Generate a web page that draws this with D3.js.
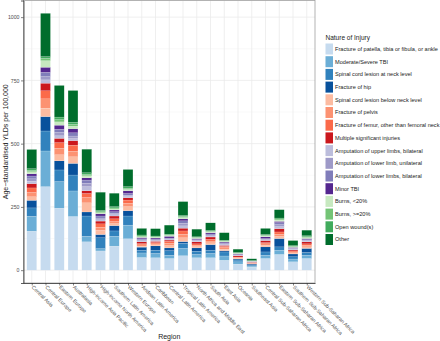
<!DOCTYPE html>
<html>
<head>
<meta charset="utf-8">
<script src="https://cdn.jsdelivr.net/npm/d3@7"></script>
<style>
  body { margin: 0; background: #fff; }
  text { font-family: "Liberation Sans", Arial, sans-serif; }
</style>
</head>
<body>
<div id="chart"></div>
<script>
// stacked YLDs by region, one array per injury (same order as regions)

var regions = ["Central Asia", "Central Europe", "Eastern Europe", "Australasia",
  "High-income Asia Pacific", "High-income North America", "Southern Latin America",
  "Western Europe", "Andean Latin America", "Caribbean", "Central Latin America",
  "Tropical Latin America", "North Africa and Middle East", "South Asia", "East Asia",
  "Oceania", "Southeast Asia", "Central Sub-Saharan Africa", "Eastern Sub-Saharan Africa",
  "Southern Sub-Saharan Africa", "Western Sub-Saharan Africa"];

var injuries = ["Fracture of patella, tibia or fibula, or ankle", "Moderate/Severe TBI",
  "Spinal cord lesion at neck level", "Fracture of hip", "Spinal cord lesion below neck level",
  "Fracture of pelvis", "Fracture of femur, other than femoral neck", "Multiple significant injuries",
  "Amputation of upper limbs, bilateral", "Amputation of lower limb, unilateral",
  "Amputation of lower limbs, bilateral", "Minor TBI", "Burns, <20%", "Burns, >=20%",
  "Open wound(s)", "Other"];

var colors = ["#c6dbef", "#6baed6", "#3182bd", "#08519c", "#fcbba1", "#fc9272", "#fb6a4a", "#cb181d",
  "#bcbddc", "#9e9ac8", "#807dba", "#54278f", "#c7e9c0", "#74c476", "#41ab5d", "#006d2c"];

var patella     = [154, 330, 245, 212, 112, 76, 95, 124, 50, 49, 46, 57, 49, 49, 39, 24, 12, 46, 62, 33, 46];
var tbiSevere   = [59, 141, 105, 101, 22, 9, 39, 54, 18, 17, 13, 29, 13, 17, 17, 9, 4, 13, 17, 11, 13];
var spinalNeck  = [33, 79, 46, 63, 80, 43, 21, 36, 11, 13, 18, 20, 13, 13, 16, 7, 4, 13, 13, 9, 11];
var hip         = [30, 57, 36, 46, 16, 13, 21, 21, 12, 17, 11, 7, 13, 22, 5, 4, 4, 20, 33, 11, 16];
var spinalBelow = [14, 33, 24, 26, 36, 16, 8, 16, 4, 4, 9, 15, 5, 7, 6, 3, 1, 6, 8, 4, 6];
var pelvis      = [17, 37, 26, 22, 21, 13, 8, 13, 5, 4, 9, 14, 6, 7, 6, 3, 2, 6, 9, 4, 6];
var femur       = [18, 32, 22, 24, 16, 13, 11, 13, 5, 5, 8, 13, 5, 7, 5, 2, 1, 5, 9, 4, 6];
var multiple    = [17, 30, 17, 18, 11, 11, 11, 9, 7, 5, 5, 11, 8, 9, 4, 5, 3, 8, 13, 4, 8];
var ampUpper    = [9, 13, 10, 8, 16, 5, 5, 5, 4, 2, 2, 9, 3, 4, 3, 2, 1, 3, 8, 2, 3];
var ampLowerUni = [10, 13, 13, 10, 13, 7, 5, 5, 4, 3, 3, 10, 3, 4, 3, 2, 1, 3, 8, 3, 3];
var ampLowerBi  = [11, 17, 13, 13, 13, 8, 7, 7, 4, 3, 3, 10, 3, 4, 3, 1, 1, 2, 8, 2, 3];
var minorTBI    = [9, 20, 16, 16, 9, 9, 7, 11, 5, 5, 7, 8, 4, 5, 4, 3, 1, 7, 5, 3, 4];
var burnsLt20   = [8, 26, 13, 10, 8, 4, 4, 5, 3, 3, 3, 5, 3, 3, 3, 2, 1, 3, 5, 2, 4];
var burnsGe20   = [5, 9, 9, 7, 5, 4, 4, 4, 3, 2, 2, 4, 2, 3, 2, 1, 1, 3, 4, 2, 3];
var openWound   = [7, 7, 10, 9, 7, 5, 5, 7, 4, 3, 3, 4, 2, 3, 2, 2, 1, 3, 4, 3, 4];
var other       = [76, 171, 125, 125, 93, 72, 53, 68, 26, 29, 36, 55, 30, 30, 30, 13, 7, 24, 33, 20, 22];

var series = [patella, tbiSevere, spinalNeck, hip, spinalBelow, pelvis, femur, multiple,
  ampUpper, ampLowerUni, ampLowerBi, minorTBI, burnsLt20, burnsGe20, openWound, other];

var yTicks = [0, 250, 500, 750, 1000];
var yMinor = [125, 375, 625, 875];

var width = 440,
    height = 341;

// panel box (note: "top" is taken by window.top)
var pL = 23.5, pR = 315, pT = 0.5, pB = 283;

var svg = d3.select("#chart").append("svg")
    .attr("width", width)
    .attr("height", height);

// table for d3.stack
var table = regions.map(function(r, i) {
  var row = { region: r };
  injuries.forEach(function(k, j) { row[k] = series[j][i]; });
  return row;
});

var stacked = d3.stack().keys(injuries)(table);

var maxTotal = d3.max(stacked[stacked.length - 1], function(d) { return d[1]; });
var pad = maxTotal * 0.05;

var x = d3.scalePoint()
    .domain(regions)
    .range([pL, pR])
    .padding(0.6);

var y = d3.scaleLinear()
    .domain([-pad, maxTotal + pad])
    .range([pB, pT]);

var barW = x.step() * 0.72;

// grid
svg.append("g").selectAll("line")
    .data(yMinor).enter().append("line")
    .attr("x1", pL).attr("x2", pR)
    .attr("y1", function(d) { return y(d); })
    .attr("y2", function(d) { return y(d); })
    .attr("stroke", "#f3f3f3").attr("stroke-width", 0.5);

svg.append("g").selectAll("line")
    .data(yTicks).enter().append("line")
    .attr("x1", pL).attr("x2", pR)
    .attr("y1", function(d) { return y(d); })
    .attr("y2", function(d) { return y(d); })
    .attr("stroke", "#ebebeb").attr("stroke-width", 0.8);

svg.append("g").selectAll("line")
    .data(regions).enter().append("line")
    .attr("x1", function(d) { return x(d); })
    .attr("x2", function(d) { return x(d); })
    .attr("y1", pT).attr("y2", pB)
    .attr("stroke", "#ebebeb").attr("stroke-width", 0.8);

// bars
svg.append("g").selectAll("g")
    .data(stacked).enter().append("g")
    .attr("fill", function(d, i) { return colors[i]; })
    .selectAll("rect")
    .data(function(d) { return d; })
    .enter().append("rect")
    .attr("x", function(d) { return x(d.data.region) - barW / 2; })
    .attr("width", barW)
    .attr("y", function(d) { return y(d[1]); })
    .attr("height", function(d) { return y(d[0]) - y(d[1]); })
    .attr("stroke", "#ffffff")
    .attr("stroke-opacity", 0.5)
    .attr("stroke-width", 0.3);

// panel border
svg.append("rect")
    .attr("x", pL).attr("y", pT)
    .attr("width", pR - pL).attr("height", pB - pT)
    .attr("fill", "none").attr("stroke", "#a0a0a0").attr("stroke-width", 0.8);

// axes
var yAxis = svg.append("g")
    .attr("transform", "translate(" + pL + ",0)")
    .call(d3.axisLeft(y).tickValues(yTicks).tickSize(2.5).tickPadding(1.5).tickFormat(d3.format("d")));
yAxis.select(".domain").attr("stroke", "#333").attr("stroke-width", 0.8);
yAxis.selectAll(".tick line").attr("stroke", "#333").attr("stroke-width", 0.6);
yAxis.selectAll(".tick text").attr("font-size", "5.2px").attr("fill", "#4d4d4d")
    .attr("font-family", "Liberation Sans, Arial, sans-serif");

var xAxis = svg.append("g")
    .attr("transform", "translate(0," + pB + ")")
    .call(d3.axisBottom(x).tickSize(2.5).tickSizeOuter(0));
xAxis.select(".domain").attr("stroke", "#333").attr("stroke-width", 0.8);
xAxis.selectAll(".tick line").attr("stroke", "#333").attr("stroke-width", 0.6);
xAxis.selectAll(".tick text")
    .attr("font-size", "5.2px").attr("fill", "#555")
    .attr("font-family", "Liberation Sans, Arial, sans-serif")
    .attr("text-anchor", "start")
    .attr("y", 0).attr("dy", 0)
    .attr("transform", "translate(-1,4.5) rotate(45)");

// axis titles
svg.append("text")
    .attr("x", (pL + pR) / 2).attr("y", 339)
    .attr("text-anchor", "middle")
    .attr("font-size", "7px").attr("fill", "#222")
    .text("Region");

svg.append("text")
    .attr("transform", "translate(8," + ((pT + pB) / 2) + ") rotate(-90)")
    .attr("text-anchor", "middle")
    .attr("font-size", "7px").attr("fill", "#222")
    .text("Age\u2212standardised YLDs per 100,000");

// legend
var lg = svg.append("g").attr("transform", "translate(325.5,0)");
lg.append("text")
    .attr("x", 0).attr("y", 40)
    .attr("font-size", "6.5px").attr("fill", "#222")
    .text("Nature of Injury");

var item = lg.selectAll("g.item")
    .data(injuries).enter().append("g")
    .attr("class", "item")
    .attr("transform", function(d, i) { return "translate(0," + (43.5 + i * 12.7) + ")"; });

item.append("rect")
    .attr("width", 7.5).attr("height", 11)
    .attr("fill", function(d, i) { return colors[i]; });

item.append("text")
    .attr("x", 9.5).attr("y", 5.5).attr("dy", "0.35em")
    .attr("font-size", "5.6px").attr("fill", "#222")
    .text(function(d) { return d; });
</script>
</body>
</html>
